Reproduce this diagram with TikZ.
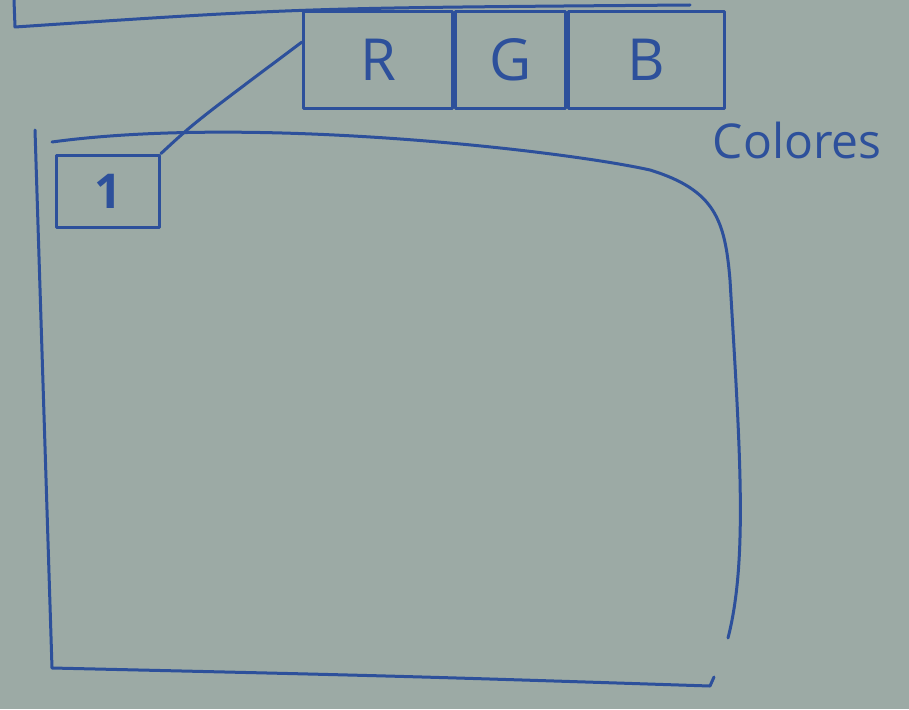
\documentclass[tikz,border=0pt]{standalone}
\usepackage{fontspec}
\setsansfont{Open Sans}
\usetikzlibrary{positioning}
\definecolor{board}{RGB}{156,170,165}
\definecolor{ink}{RGB}{45,80,155}
\tikzstyle{pen} = [line width=3pt, color=ink, line cap=round, line join=round]
\tikzstyle{cell} = [pen, draw, minimum height=96pt, inner sep=0pt, font=\sffamily\fontsize{58}{58}\selectfont]

\begin{document}
\begin{tikzpicture}[x=1pt,y=-1pt]
\fill[board] (0,0) rectangle (909,709);
\useasboundingbox (0,0) rectangle (909,709);

% frame cut off at the top
\draw[pen] (14,0) -- (15,27) .. controls (300,8) .. (690,5);

% colour cells
\node[cell, minimum width=149pt] (R) at (378,60) {R};
\node[cell, minimum width=110pt, right=0pt of R] (G) {G};
\node[cell, minimum width=156pt, right=0pt of G] (B) {B};
\node[pen, anchor=west, font=\sffamily\fontsize{48}{48}\selectfont] (colores) at (708,140) {Colores};

% canvas
\draw[pen] (35,130) -- (52,668) .. controls (400,676) .. (710,686) -- (714,677);
\draw[pen] (52,142) .. controls (250,115) and (560,150) .. (650,170)
  .. controls (715,190) and (725,220) .. (730,280)
  .. controls (740,450) and (748,560) .. (728,638);

% layer 1
\node[pen, draw, minimum width=103pt, minimum height=72pt, font=\sffamily\bfseries\fontsize{48}{48}\selectfont] (one) at (108,191) {1};
\draw[pen] (one.north east) .. controls (195,122) .. ([yshift=18pt]R.west);
\end{tikzpicture}
\end{document}
